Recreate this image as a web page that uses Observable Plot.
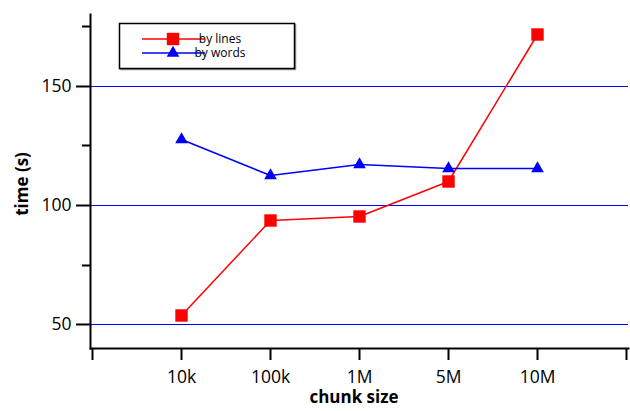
<!DOCTYPE html>
<html><head><meta charset="utf-8">
<script src="https://cdn.jsdelivr.net/npm/d3@7"></script>
<script src="https://cdn.jsdelivr.net/npm/@observablehq/plot@0.6"></script>
<style>
body{margin:0;background:#fff}
#chart{position:relative;width:630px;height:411px}
#chart g[aria-label$="tick label"] text{font-size:17.5px;font-family:'Open Sans',sans-serif;fill:#000}
#chart .legend text{font-size:12px;font-family:'Open Sans',sans-serif}
</style>
</head><body><div id="chart"></div>
<script>
const chunkSizes = ["10k", "100k", "1M", "5M", "10M"];
const byLines = [53.8, 93.7, 95.4, 110.1, 171.8];
const byWords = [127.7, 112.6, 117.2, 115.5, 115.5];
const seriesNames = ["by lines", "by words"];
const seriesColors = ["#ff0000", "#0000ff"];
const yMajorTicks = [50, 100, 150];
const yMinorTicks = [75, 125, 175];
const xDomain = ["", ...chunkSizes, " "];

const linesRows = chunkSizes.map((s, i) => ({size: s, time: byLines[i]}));
const wordsRows = chunkSizes.map((s, i) => ({size: s, time: byWords[i]}));

const plot = Plot.plot({
  width: 630,
  height: 411,
  marginLeft: 90,
  marginRight: 2,
  marginTop: 14,
  marginBottom: 63,
  style: {fontFamily: "'Open Sans', sans-serif", fontSize: "17px", color: "#000", background: "#fff", overflow: "visible"},
  x: {type: "point", domain: xDomain, padding: 0, round: true},
  y: {domain: [40, 180], round: true},
  marks: [
    Plot.gridY(yMajorTicks, {stroke: "#0000ff", strokeOpacity: 1, strokeWidth: 1}),
    Plot.axisY(yMajorTicks, {tickSize: 14, tickPadding: 5, strokeWidth: 2, label: null, fill: "#000"}),
    Plot.axisY(yMinorTicks, {tickSize: 8, tickFormat: () => "", strokeWidth: 2, label: null}),
    Plot.axisX({tickSize: 12, tickPadding: 10, strokeWidth: 2, label: null, fill: "#000"}),
    Plot.frame({anchor: "left", strokeWidth: 2}),
    Plot.frame({anchor: "bottom", strokeWidth: 2}),
    Plot.line(linesRows, {x: "size", y: "time", stroke: seriesColors[0], strokeWidth: 1.5}),
    Plot.line(wordsRows, {x: "size", y: "time", stroke: seriesColors[1], strokeWidth: 1.5}),
    Plot.dot(linesRows, {x: "size", y: "time", symbol: "square", r: 7, fill: seriesColors[0], stroke: "none"}),
    Plot.dot(wordsRows, {x: "size", y: "time", symbol: "triangle", r: 4.7, fill: seriesColors[1], stroke: "none"})
  ]
});

const svg = d3.select(plot);
// axis titles
svg.append("text").attr("x", 354).attr("y", 403).attr("text-anchor", "middle")
  .attr("font-weight", "bold").attr("font-size", 17).attr("fill", "#000").text("chunk size");
svg.append("text").attr("transform", "translate(28,184) rotate(-90)").attr("text-anchor", "middle")
  .attr("font-weight", "bold").attr("font-size", 17).attr("fill", "#000").text("time (s)");

// legend
const lg = svg.append("g").attr("class", "legend");
lg.append("rect").attr("x", 120.5).attr("y", 24.5).attr("width", 175).attr("height", 45)
  .attr("fill", "none").attr("stroke", "#999").attr("stroke-width", 1.5);
lg.append("rect").attr("x", 119.5).attr("y", 23.5).attr("width", 175).attr("height", 45)
  .attr("fill", "#fff").attr("stroke", "#000").attr("stroke-width", 1.5);
const sq = d3.symbol(d3.symbolSquare, 7 * 7 * Math.PI)();
const tri = d3.symbol(d3.symbolTriangle, 4.7 * 4.7 * Math.PI)();
seriesNames.forEach((name, i) => {
  const y = 39 + i * 14;
  lg.append("line").attr("x1", 142).attr("x2", 205).attr("y1", y).attr("y2", y)
    .attr("stroke", seriesColors[i]).attr("stroke-width", 1.5);
  lg.append("path").attr("d", i === 0 ? sq : tri).attr("transform", `translate(173,${y})`)
    .attr("fill", seriesColors[i]);
  lg.append("text").attr("x", 220).attr("y", y + 4).attr("fill", "#000").text(name);
});

document.getElementById("chart").appendChild(plot);
</script>
</body></html>
